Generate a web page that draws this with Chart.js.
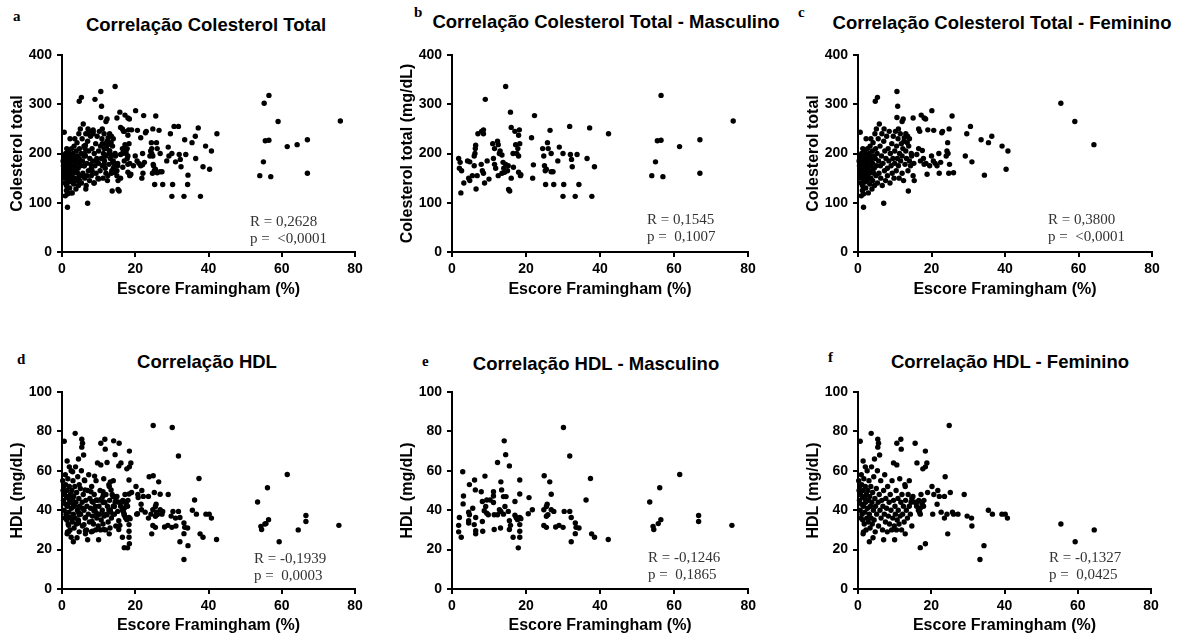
<!DOCTYPE html>
<html lang="pt">
<head>
<meta charset="utf-8">
<title>Correlações com o Escore Framingham</title>
<script src="https://cdn.jsdelivr.net/npm/chart.js@4.4.0/dist/chart.umd.min.js"></script>
<style>
  body { margin: 0; background: #fff; width: 1181px; height: 635px; position: relative; overflow: hidden; font-family: Arial, "Liberation Sans", sans-serif; }
  .painel { position: absolute; }
  .letra { position: absolute; font-family: "Liberation Serif", "Times New Roman", serif; font-weight: bold; font-size: 15px; line-height: 15px; }
  .titulo { position: absolute; font-weight: bold; font-size: 18.5px; line-height: 18px; white-space: nowrap; transform: translateX(-50%); }
  .stats { position: absolute; font-family: "Liberation Serif", "Times New Roman", serif; font-size: 15px; line-height: 17px; color: #333; white-space: pre; }
</style>
</head>
<body>

<div class="letra" style="left:13px; top:9px;">a</div>
<div class="letra" style="left:414px; top:5px;">b</div>
<div class="letra" style="left:798px; top:5px;">c</div>
<div class="letra" style="left:17px; top:352px;">d</div>
<div class="letra" style="left:422px; top:354px;">e</div>
<div class="letra" style="left:828px; top:350px;">f</div>

<div class="titulo" style="left:206px; top:16px;">Correlação Colesterol Total</div>
<div class="titulo" style="left:606px; top:13px;">Correlação Colesterol Total - Masculino</div>
<div class="titulo" style="left:1002px; top:14px;">Correlação Colesterol Total - Feminino</div>
<div class="titulo" style="left:207px; top:353px;">Correlação HDL</div>
<div class="titulo" style="left:596px; top:355px;">Correlação HDL - Masculino</div>
<div class="titulo" style="left:1010px; top:353px;">Correlação HDL - Feminino</div>

<div class="painel" style="left:0px; top:40px;"><canvas id="chartA" width="370" height="270"></canvas></div>
<div class="painel" style="left:390px; top:40px;"><canvas id="chartB" width="370" height="270"></canvas></div>
<div class="painel" style="left:796px; top:40px;"><canvas id="chartC" width="370" height="270"></canvas></div>
<div class="painel" style="left:0px; top:377px;"><canvas id="chartD" width="370" height="258"></canvas></div>
<div class="painel" style="left:390px; top:377px;"><canvas id="chartE" width="370" height="258"></canvas></div>
<div class="painel" style="left:796px; top:377px;"><canvas id="chartF" width="370" height="258"></canvas></div>

<div class="stats" style="left:250px; top:213px;">R = 0,2628
p =  &lt;0,0001</div>
<div class="stats" style="left:647px; top:211px;">R = 0,1545
p =  0,1007</div>
<div class="stats" style="left:1048px; top:211px;">R = 0,3800
p =  &lt;0,0001</div>
<div class="stats" style="left:254px; top:550px;">R = -0,1939
p =  0,0003</div>
<div class="stats" style="left:648px; top:549px;">R = -0,1246
p =  0,1865</div>
<div class="stats" style="left:1049px; top:549px;">R = -0,1327
p =  0,0425</div>

<script>
// Escore Framingham (%) x Colesterol total (mg/dL) - masculino
const colMasc = [
  [1.8,190],[2.2,182],[2.0,170],[2.6,165],[2.4,120],[3.2,140],[4.2,185],[4.8,183],[4.5,150],[4.8,145],
  [5.5,155],[6.0,175],[6.2,200],[6.3,210],[6.4,217],[6.0,195],[6.5,128],[6.8,155],[7.0,240],[8.0,245],
  [8.5,248],[8.5,240],[7.9,178],[8.2,165],[8.5,160],[8.8,140],[9.5,185],[9.0,310],[10.0,148],[11.0,220],
  [11.5,210],[11.2,190],[11.5,178],[11.8,170],[12.3,225],[12.5,218],[12.8,200],[13.0,205],[12.5,155],[13.5,160],
  [13.5,197],[13.8,182],[14.0,170],[14.2,162],[14.5,336],[14.5,178],[15.0,165],[15.2,175],[15.3,127],[15.6,124],
  [15.8,284],[16.0,253],[16.0,150],[16.5,200],[16.6,172],[17.0,245],[17.2,218],[17.8,210],[18.0,237],[18.2,248],
  [17.5,200],[18.0,195],[18.3,220],[18.0,162],[18.5,155],[18.6,157],[21.5,232],[22.0,177],[21.8,150],[22.3,277],
  [24.5,210],[24.8,195],[25.0,175],[25.2,165],[25.5,168],[25.3,137],[25.8,222],[26.0,210],[26.5,247],[26.8,200],
  [26.8,163],[27.3,163],[27.5,137],[28.6,185],[29.0,213],[30.0,200],[30.2,137],[30.0,113],[31.8,255],[32.0,198],
  [32.3,188],[32.5,173],[33.3,113],[33.8,198],[34.3,137],[36.5,190],[37.2,252],[37.8,113],[38.5,173],[42.3,240],
  [54.0,155],[55.0,183],[55.5,226],[56.5,227],[56.5,318],[57.0,153],[61.5,214],[67.0,228],[67.0,160],[76.0,266]
];

// Escore Framingham (%) x Colesterol total (mg/dL) - feminino
const colFem = [
  [10.6,326],[5.3,314],[4.7,306],[10.8,296],[20.1,287],[12.0,265],[10.6,273],[25.6,276],[17.2,278],[18.0,272],
  [18.4,270],[30.6,255],[36.4,235],[33.5,228],[35.5,222],[39.2,215],[40.8,205],[40.3,168],[34.4,156],[31.0,183],
  [29.2,195],[29.6,240],[24.8,250],[24.4,222],[20.6,247],[24.2,205],[24.9,178],[24.7,160],[26.0,161],[22.1,160],
  [18.8,158],[22.8,242],[13.7,124],[7.0,99],[1.5,91],[0.6,243],[0.9,114],[55.2,302],[59.0,265],[64.2,218],
  [15.0,272],[16.5,250],[16.8,245],[17.5,206],[16.0,198],[17.8,190],[18.5,180],[19.5,175],[20.5,185],[21.0,180],
  [21.5,175],[22.0,200],[22.5,182],[23.0,245],[24.0,195],[24.5,200],[15.2,180],[15.0,155],[15.3,145],[16.5,210],
  [19.0,248],[20.0,195],[17.0,185],[18.0,178],[14.5,200],[14.0,230],[13.5,235],[13.0,240],[12.5,225],
  [0.3,185],[0.4,175],[0.5,168],[0.5,160],[0.6,150],[0.7,195],[0.8,180],[0.9,140],[1.0,200],[1.0,190],
  [1.1,172],[1.1,155],[1.2,135],[1.2,125],[1.3,210],[1.3,183],[1.4,165],[1.5,148],[1.5,118],[1.6,195],
  [1.7,178],[1.8,160],[1.8,205],[1.9,142],[2.0,188],[2.0,170],[2.1,130],[2.2,230],[2.2,198],[2.3,155],
  [2.4,180],[2.5,165],[2.5,145],[2.6,210],[2.7,192],[2.8,172],[2.8,120],[2.9,150],[3.0,200],[3.0,185],
  [3.1,160],[3.2,138],[3.3,215],[3.3,195],[3.4,175],[3.5,230],[3.5,150],[3.6,188],[3.7,165],[3.8,128],
  [3.9,205],[4.0,180],[4.0,145],[4.1,222],[4.2,195],[4.3,160],[4.4,170],[4.5,135],[4.6,240],[4.7,190],
  [4.8,210],[4.9,155],[5.0,175],[5.0,250],[5.2,200],[5.3,140],[5.5,230],[5.6,185],[5.7,160],[5.8,260],
  [6.0,215],[6.1,175],[6.2,150],[6.4,195],[6.5,240],[6.6,135],[6.8,180],[7.0,225],[7.1,250],[7.2,165],
  [7.3,205],[7.5,145],[7.6,190],[7.8,235],[8.0,170],[8.0,155],[8.2,210],[8.4,185],[8.5,245],[8.7,140],
  [8.8,200],[9.0,175],[9.2,220],[9.3,160],[9.5,190],[9.6,235],[9.8,150],[10.0,205],[10.0,180],[10.2,245],
  [10.4,165],[10.5,215],[10.7,190],[10.9,230],[11.0,175],[11.2,150],[11.3,200],[11.5,240],[11.6,185],[11.8,220],
  [12.0,160],[12.0,195],[12.2,210],[12.4,145],[12.6,232],[12.8,178],[13.0,205],[13.2,190],[13.4,222],[13.6,165],
  [13.8,215],[14.0,185],[14.3,175],[14.6,195],[12.3,270],[11.0,250]
];

// Escore Framingham (%) x HDL (mg/dL) - masculino
const hdlMasc = [
  [2.9,59.5],[3.1,47.2],[3.0,43.2],[2.0,36.3],[1.8,32.3],[1.8,29.0],[2.5,26.3],[4.7,53.0],[4.5,39.0],[4.7,37.7],
  [4.5,34.7],[4.5,33.5],[5.6,41.0],[6.1,55.3],[6.3,50.3],[6.4,36.3],[6.0,32.7],[6.4,29.6],[6.4,28.0],[7.9,49.4],
  [8.2,44.4],[8.7,39.7],[8.2,34.3],[8.3,29.3],[8.9,57.3],[9.4,45.2],[9.4,38.5],[9.8,37.7],[9.1,41.9],[10.3,45.2],
  [11.2,49.4],[11.2,47.2],[11.2,43.9],[11.4,37.7],[11.4,30.2],[12.3,37.7],[12.3,64.2],[12.8,40.2],[13.2,39.4],[13.1,31.0],
  [13.2,54.4],[13.4,50.3],[13.9,46.9],[13.9,38.0],[14.1,75.2],[14.5,68.2],[14.6,46.9],[14.3,41.9],[15.2,39.4],[15.5,62.5],
  [15.5,34.7],[15.5,30.2],[15.8,32.3],[16.5,26.3],[17.0,44.4],[17.0,37.4],[17.3,36.5],[17.4,36.0],[17.7,35.2],[18.3,55.3],
  [18.3,48.2],[18.3,36.3],[18.6,35.7],[18.3,32.7],[18.3,29.3],[18.3,26.3],[17.9,20.9],[20.8,46.4],[20.6,38.2],[21.7,40.2],
  [24.9,57.5],[24.8,40.2],[25.5,41.9],[25.7,43.0],[25.5,36.9],[25.9,37.7],[24.8,32.2],[25.5,31.3],[26.4,54.4],[26.8,48.1],
  [26.8,40.2],[27.5,39.4],[28.0,31.5],[28.9,32.3],[30.0,31.3],[30.1,82.0],[30.3,39.4],[31.8,67.5],[31.8,39.4],[32.2,36.3],
  [32.2,24.0],[33.3,33.5],[33.5,31.3],[33.3,28.1],[34.3,31.0],[36.2,45.2],[37.4,56.1],[37.7,28.0],[38.5,26.3],[42.2,25.1],
  [61.5,58.1],[56.1,51.4],[53.4,44.2],[66.6,37.3],[66.6,34.3],[75.6,32.3],[56.4,35.2],[55.7,33.2],[54.3,31.8],[54.5,30.2]
];

// Escore Framingham (%) x HDL (mg/dL) - feminino
const hdlFem = [
  [24.9,83],[3.6,79],[0.6,75],[5.4,76],[5.6,74],[5.4,72],[10.6,74],[11.7,76],[11.8,71],[15.6,74],
  [18.4,70],[4.5,66],[5.9,68],[1.4,65],[9.7,64],[10.6,63],[16.1,64],[18.8,64],[18.4,62],[17.7,61],
  [2.0,62],[23.8,57],[29.0,48],[25.2,49],[23.6,47],[20.2,52],[20.7,48],[21.8,50],[22.2,47],[21.6,43],
  [20.4,38],[22.7,39],[23.6,36],[24.3,38],[25.8,39],[26.1,38],[24.5,28],[27.3,38],[29.8,37],[31.0,36],
  [31.1,32],[35.6,40],[36.7,38],[39.3,38],[40.2,38],[40.8,36],[34.4,22],[33.3,15],[17.0,21],[18.4,23],
  [12.9,28],[10.0,25],[7.0,25],[3.1,24],[4.1,26],[1.4,28],[1.5,29],[14.7,32],[16.8,39],[17.0,41],
  [17.5,44],[17.9,42],[16.1,44],[16.6,45],[14.7,46],[15.0,47],[14.0,55],[12.9,52],[55.4,33],[64.5,30],
  [59.3,24],
  [0.2,55],[0.3,50],[0.4,45],[0.5,52],[0.6,40],[0.7,48],[0.8,36],[0.9,58],[1.0,43],[1.0,53],
  [1.1,38],[1.2,47],[1.3,35],[1.4,50],[1.5,42],[1.6,56],[1.7,33],[1.8,46],[1.9,39],[2.0,52],
  [2.1,44],[2.2,30],[2.3,48],[2.4,36],[2.5,60],[2.6,41],[2.7,50],[2.8,34],[2.9,45],[3.0,55],
  [3.1,38],[3.2,47],[3.3,31],[3.4,42],[3.5,52],[3.6,36],[3.7,62],[3.8,44],[3.9,33],[4.0,49],
  [4.2,40],[4.3,57],[4.4,35],[4.6,46],[4.7,29],[4.8,42],[5.0,51],[5.1,38],[5.3,60],[5.5,44],
  [5.6,32],[5.8,48],[6.0,40],[6.2,55],[6.3,36],[6.5,45],[6.7,30],[6.8,42],[7.0,50],[7.2,38],
  [7.3,58],[7.5,34],[7.6,46],[7.8,41],[8.0,29],[8.1,52],[8.3,37],[8.5,44],[8.6,33],[8.8,48],
  [9.0,40],[9.2,30],[9.3,55],[9.5,36],[9.7,45],[9.9,32],[10.1,42],[10.2,38],[10.4,50],[10.5,30],
  [10.7,35],[10.9,46],[11.0,40],[11.2,33],[11.4,56],[11.5,37],[11.7,44],[11.9,30],[12.0,48],[12.2,38],
  [12.4,42],[12.6,34],[12.8,53],[13.0,45],[13.2,40],[13.5,36],[13.7,48],[14.0,42],[14.3,38],[14.5,44],
  [15.5,44],[16.0,42],[16.5,40],[17.0,38],[17.5,43],[18.0,45],[17.2,48],[19.0,49]
];

const fonteEixo = { family: 'Arial, "Liberation Sans", sans-serif', weight: 'bold', size: 14 };
const fonteTitulo = { family: 'Arial, "Liberation Sans", sans-serif', weight: 'bold', size: 16 };

function criarGrafico(id, pontos, yMax, yPasso, yTitulo, padTopo, padDireita, alturaX, padTituloX) {
  new Chart(document.getElementById(id), {
    type: 'scatter',
    data: {
      datasets: [{
        data: pontos.map(p => ({ x: p[0], y: p[1] })),
        backgroundColor: '#000',
        borderWidth: 0,
        pointRadius: 2.7,
        pointHoverRadius: 2.7,
        clip: false
      }]
    },
    options: {
      responsive: false,
      animation: false,
      events: [],
      layout: { padding: { top: padTopo, right: padDireita, left: 0, bottom: 0 } },
      plugins: { legend: { display: false }, tooltip: { enabled: false } },
      scales: {
        x: {
          type: 'linear', min: 0, max: 80,
          ticks: { stepSize: 20, color: '#000', font: fonteEixo, padding: 4, maxRotation: 0 },
          grid: { drawOnChartArea: false, tickLength: 5, color: '#000', lineWidth: 2 },
          border: { color: '#000', width: 2 },
          title: { display: true, text: 'Escore Framingham (%)', color: '#000', font: fonteTitulo, padding: { top: 0, bottom: padTituloX } },
          afterFit: s => { s.height = alturaX; }
        },
        y: {
          type: 'linear', min: 0, max: yMax,
          ticks: { stepSize: yPasso, color: '#000', font: fonteEixo, padding: 5 },
          grid: { drawOnChartArea: false, tickLength: 5, color: '#000', lineWidth: 2 },
          border: { color: '#000', width: 2 },
          title: { display: true, text: yTitulo, color: '#000', font: fonteTitulo, padding: { top: 8, bottom: 0 } },
          afterFit: s => { s.width = 62; }
        }
      }
    }
  });
}

// Linha superior: colesterol total
criarGrafico('chartA', colMasc.concat(colFem), 400, 100, 'Colesterol total', 15, 15, 58, 11);
criarGrafico('chartB', colMasc, 400, 100, 'Colesterol total (mg/dL)', 15, 12, 58, 11);
criarGrafico('chartC', colFem, 400, 100, 'Colesterol total', 15, 14, 58, 11);

// Linha inferior: HDL
criarGrafico('chartD', hdlMasc.concat(hdlFem), 100, 20, 'HDL (mg/dL)', 15, 15, 46, 0);
criarGrafico('chartE', hdlMasc, 100, 20, 'HDL (mg/dL)', 15, 10, 46, 0);
criarGrafico('chartF', hdlFem, 100, 20, 'HDL (mg/dL)', 15, 15, 46, 0);
</script>
</body>
</html>
